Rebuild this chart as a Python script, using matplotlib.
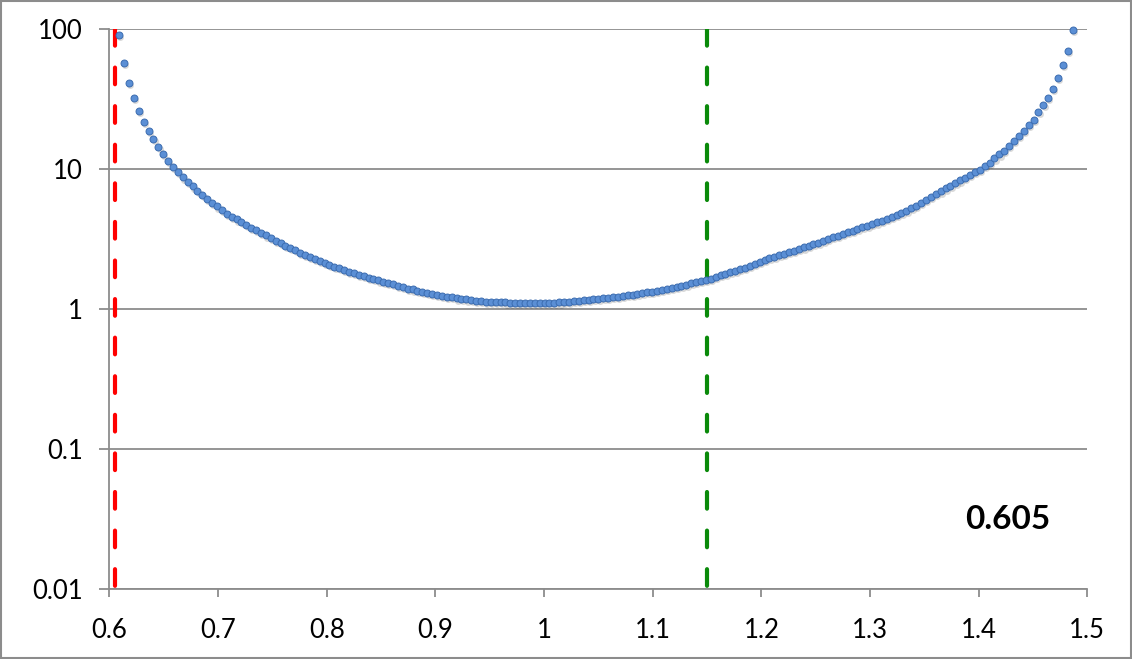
import matplotlib
matplotlib.use('Agg')
import matplotlib.pyplot as plt
import matplotlib.transforms as mtransforms
from matplotlib.patches import Rectangle
from matplotlib.ticker import NullLocator

# sample positions and values
x_vals = [
    0.609, 0.6135, 0.618, 0.6225, 0.627, 0.6315, 0.636, 0.6405, 0.645, 0.6495,
    0.654, 0.6585, 0.663, 0.6675, 0.672, 0.6765, 0.681, 0.6855, 0.69, 0.6945,
    0.699, 0.7035, 0.708, 0.7125, 0.717, 0.7215, 0.726, 0.7305, 0.735, 0.7395,
    0.744, 0.7485, 0.753, 0.7575, 0.762, 0.7665, 0.771, 0.7755, 0.78, 0.7845,
    0.789, 0.7935, 0.798, 0.8025, 0.807, 0.8115, 0.816, 0.8205, 0.825, 0.8295,
    0.834, 0.8385, 0.843, 0.8475, 0.852, 0.8565, 0.861, 0.8655, 0.87, 0.8745,
    0.879, 0.8835, 0.888, 0.8925, 0.897, 0.9015, 0.906, 0.9105, 0.915, 0.9195,
    0.924, 0.9285, 0.933, 0.9375, 0.942, 0.9465, 0.951, 0.9555, 0.96, 0.9645,
    0.969, 0.9735, 0.978, 0.9825, 0.987, 0.9915, 0.996, 1.0005, 1.005, 1.0095,
    1.014, 1.0185, 1.023, 1.0275, 1.032, 1.0365, 1.041, 1.0455, 1.05, 1.0545,
    1.059, 1.0635, 1.068, 1.0725, 1.077, 1.0815, 1.086, 1.0905, 1.095, 1.0995,
    1.104, 1.1085, 1.113, 1.1175, 1.122, 1.1265, 1.131, 1.1355, 1.14, 1.1445,
    1.149, 1.1535, 1.158, 1.1625, 1.167, 1.1715, 1.176, 1.1805, 1.185, 1.1895,
    1.194, 1.1985, 1.203, 1.2075, 1.212, 1.2165, 1.221, 1.2255, 1.23, 1.2345,
    1.239, 1.2435, 1.248, 1.2525, 1.257, 1.2615, 1.266, 1.2705, 1.275, 1.2795,
    1.284, 1.2885, 1.293, 1.2975, 1.302, 1.3065, 1.311, 1.3155, 1.32, 1.3245,
    1.329, 1.3335, 1.338, 1.3425, 1.347, 1.3515, 1.356, 1.3605, 1.365, 1.3695,
    1.374, 1.3785, 1.383, 1.3875, 1.392, 1.3965, 1.401, 1.4055, 1.41, 1.4145,
    1.419, 1.4235, 1.428, 1.4325, 1.437, 1.4415, 1.446, 1.4505, 1.455, 1.4595,
    1.464, 1.4685, 1.473, 1.4775, 1.482, 1.4865,
]
y_vals = [
    90, 57, 41, 32, 26, 21.7, 18.7, 16.3, 14.4, 12.8,
    11.5, 10.4, 9.5, 8.7, 8.05, 7.5, 7.0, 6.5, 6.1, 5.75,
    5.4, 5.08, 4.8, 4.57, 4.36, 4.18, 3.99, 3.81, 3.65, 3.50,
    3.35, 3.21, 3.08, 2.96, 2.84, 2.73, 2.63, 2.53, 2.44, 2.35,
    2.27, 2.20, 2.13, 2.07, 2.01, 1.96, 1.90, 1.85, 1.80, 1.76,
    1.71, 1.67, 1.63, 1.60, 1.56, 1.53, 1.50, 1.47, 1.43, 1.40,
    1.38, 1.35, 1.32, 1.30, 1.28, 1.26, 1.24, 1.22, 1.21, 1.19,
    1.18, 1.17, 1.16, 1.15, 1.14, 1.13, 1.127, 1.124, 1.119, 1.114,
    1.111, 1.107, 1.107, 1.106, 1.104, 1.104, 1.106, 1.106, 1.107, 1.111,
    1.114, 1.120, 1.126, 1.135, 1.142, 1.152, 1.161, 1.171, 1.183, 1.192,
    1.202, 1.214, 1.224, 1.236, 1.253, 1.267, 1.282, 1.299, 1.316, 1.333,
    1.354, 1.374, 1.394, 1.417, 1.443, 1.470, 1.494, 1.524, 1.552, 1.582,
    1.611, 1.651, 1.696, 1.741, 1.784, 1.828, 1.877, 1.928, 1.979, 2.035,
    2.10, 2.17, 2.24, 2.30, 2.36, 2.43, 2.49, 2.55, 2.61, 2.67,
    2.75, 2.82, 2.90, 2.98, 3.07, 3.16, 3.25, 3.34, 3.43, 3.53,
    3.63, 3.73, 3.83, 3.94, 4.05, 4.15, 4.25, 4.39, 4.53, 4.68,
    4.84, 5.05, 5.25, 5.47, 5.71, 5.98, 6.28, 6.59, 6.91, 7.26,
    7.59, 7.93, 8.28, 8.69, 9.12, 9.50, 9.89, 10.5, 11.1, 11.9,
    12.7, 13.5, 14.6, 15.9, 17.1, 18.7, 20.5, 22.5, 25.7, 28.7,
    32.4, 37.5, 44.6, 55.2, 69.6, 99,
]

x_ticks = [0.6, 0.7, 0.8, 0.9, 1.0, 1.1, 1.2, 1.3, 1.4, 1.5]
x_tick_labels = ['0.6', '0.7', '0.8', '0.9', '1', '1.1', '1.2', '1.3', '1.4', '1.5']
y_ticks = [0.01, 0.1, 1, 10, 100]
y_tick_labels = ['0.01', '0.1', '1', '10', '100']

red_x = 0.605
green_x = 1.15
note = '0.605'

plt.rcParams['font.family'] = ['Lato', 'DejaVu Sans']
grey = '#8c8c8c'

fig = plt.figure(figsize=(11.32, 6.59), dpi=100)
ax = fig.add_axes([0.0967, 0.1062, 0.8638, 0.8498])

ax.set_yscale('log')
ax.set_xlim(0.6, 1.5)
ax.set_ylim(0.01, 100)

# dashed markers, drawn from the top down like the original
ax.plot([red_x, red_x], [100, 0.01], color='#ff0000', lw=3.0,
        dashes=(4, 5.26), dash_capstyle='round', zorder=2)
ax.plot([green_x, green_x], [100, 0.01], color='#0a8a0a', lw=3.0,
        dashes=(4, 5.26), dash_capstyle='round', zorder=2)

# soft drop shadow under the dots
shadow = mtransforms.offset_copy(ax.transData, fig=fig, x=0.9, y=-1.5, units='points')
ax.plot(x_vals, y_vals, 'o', ms=5.0, color='black', alpha=0.15, mec='none',
        transform=shadow, zorder=3, clip_on=False)
ax.plot(x_vals, y_vals, 'o', ms=5.0, mfc='#5b8fd5', mec='#3b6cb0', mew=0.7,
        ls='none', zorder=4, clip_on=False)

ax.set_xticks(x_ticks)
ax.set_xticklabels(x_tick_labels)
ax.set_yticks(y_ticks)
ax.set_yticklabels(y_tick_labels)
ax.yaxis.set_minor_locator(NullLocator())

ax.yaxis.grid(True, color=grey, lw=1.3)
ax.set_axisbelow(True)
for side in ['top', 'right']:
    ax.spines[side].set_visible(False)
for side in ['left', 'bottom']:
    ax.spines[side].set_color(grey)
    ax.spines[side].set_linewidth(1.3)

ax.tick_params(axis='x', direction='out', length=6, width=1.3, color=grey,
               labelsize=18.5, pad=15)
ax.tick_params(axis='y', direction='out', length=7, width=1.3, color=grey,
               labelsize=18.5, pad=12)

ax.text(0.919, 0.125, note, transform=ax.transAxes, ha='center', va='center',
        fontsize=24, fontweight='bold')

fig.patches.append(Rectangle((0.0009, 0.0015), 0.9982, 0.997, transform=fig.transFigure,
                             fill=False, ec=grey, lw=1.5))

fig.savefig('out.png', dpi=100)
